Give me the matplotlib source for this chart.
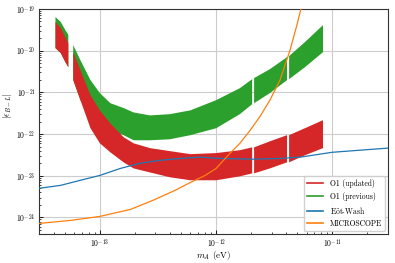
import numpy as np
import matplotlib
matplotlib.use("Agg")
import matplotlib.pyplot as plt
from matplotlib.ticker import NullFormatter, LogLocator

plt.rcParams["font.family"] = ["cmr10", "DejaVu Serif"]
plt.rcParams["mathtext.fontset"] = "cm"
plt.rcParams["axes.formatter.use_mathtext"] = True

nan = np.nan

# O1 bands (dark photon mass in eV), NaN marks breaks in the data
m_band = [4.15e-14, 4.6e-14, 5.05e-14, 5.35e-14, nan,
          5.9e-14, 6.8e-14, 8.3e-14, 1.0e-13, 1.23e-13, 1.6e-13, 1.95e-13,
          2.7e-13, 4.0e-13, 6.0e-13, 1.0e-12, 1.6e-12, 2.04e-12, nan,
          2.12e-12, 2.9e-12, 4.07e-12, nan,
          4.24e-12, 5.8e-12, 8.3e-12]

prev_hi = [6.4e-20, 4.9e-20, 3.1e-20, 2.4e-20, nan,
           1.36e-20, 5.9e-21, 1.96e-21, 9.6e-22, 5.5e-22, 4.2e-22, 3.3e-22,
           2.8e-22, 3.0e-22, 3.7e-22, 6.5e-22, 1.26e-21, 2.07e-21, nan,
           2.2e-21, 3.6e-21, 7.0e-21, nan,
           7.4e-21, 1.6e-20, 4.1e-20]
prev_lo = [1.15e-20, 8.8e-21, 5.3e-21, 4.0e-21, nan,
           1.96e-21, 6.5e-22, 2.4e-22, 1.63e-22, 1.23e-22, 9.4e-23, 7.1e-23,
           7.1e-23, 7.5e-23, 9.4e-23, 1.38e-22, 3.0e-22, 5.2e-22, nan,
           5.5e-22, 9.6e-22, 1.96e-21, nan,
           2.07e-21, 4.0e-21, 9.2e-21]

upd_hi = [4.9e-20, 3.5e-20, 2.1e-20, 1.5e-20, nan,
          9.2e-21, 3.4e-21, 8.6e-22, 3.7e-22, 1.8e-22, 8.4e-23, 6.0e-23,
          4.6e-23, 3.9e-23, 3.3e-23, 3.5e-23, 4.1e-23, 4.8e-23, nan,
          4.8e-23, 6.7e-23, 9.4e-23, nan,
          9.4e-23, 1.38e-22, 2.15e-22]
upd_lo = [1.15e-20, 8.8e-21, 5.3e-21, 4.0e-21, nan,
          1.96e-21, 6.5e-22, 1.38e-22, 6.0e-23, 3.65e-23, 2.1e-23, 1.5e-23,
          1.2e-23, 9.2e-24, 7.8e-24, 7.8e-24, 9.7e-24, 1.14e-23, nan,
          1.14e-23, 1.5e-23, 2.1e-23, nan,
          2.1e-23, 3.1e-23, 4.6e-23]

# Eot-Wash
m_ew = [3.0e-14, 4.6e-14, 6.8e-14, 1.0e-13, 1.5e-13, 2.23e-13, 3.3e-13,
        4.9e-13, 7.3e-13, 1.08e-12, 2.08e-12, 3.5e-12, 5.3e-12, 9.9e-12,
        1.72e-11, 3.0e-11]
eps_ew = [5.0e-24, 5.9e-24, 7.8e-24, 1.02e-23, 1.5e-23, 2.0e-23, 2.35e-23,
          2.6e-23, 2.8e-23, 2.6e-23, 2.5e-23, 2.6e-23, 2.8e-23, 3.65e-23,
          4.1e-23, 4.6e-23]

# MICROSCOPE
m_ms = [3.0e-14, 5.6e-14, 1.0e-13, 1.83e-13, 2.88e-13, 4.45e-13, 6.0e-13,
        8.05e-13, 1.0e-12, 1.32e-12, 1.6e-12, 1.96e-12, 2.39e-12, 2.9e-12,
        3.54e-12, 4.32e-12, 4.95e-12, 5.47e-12]
eps_ms = [7.2e-25, 8.5e-25, 1.06e-24, 1.56e-24, 2.6e-24, 4.5e-24, 6.9e-24,
          1.02e-23, 1.5e-23, 3.5e-23, 6.0e-23, 1.23e-22, 2.68e-22, 6.5e-22,
          1.96e-21, 1.03e-20, 4.1e-20, 1.26e-19]

xticks = [1e-13, 1e-12, 1e-11]
yticks = [1e-24, 1e-23, 1e-22, 1e-21, 1e-20, 1e-19]

fig = plt.figure(figsize=(3.95, 2.63), dpi=100)
ax = fig.add_axes([0.099, 0.110, 0.883, 0.856])

ax.fill_between(m_band, prev_lo, prev_hi, color="#2ca02c", lw=0, zorder=2)
ax.fill_between(m_band, upd_lo, upd_hi, color="#d62728", lw=0, zorder=3)
ax.plot(m_ew, eps_ew, color="#1f77b4", lw=0.9, zorder=4)
ax.plot(m_ms, eps_ms, color="#ff7f0e", lw=0.9, zorder=4)

ax.plot([], [], color="#d62728", lw=1.2, label="O1 (updated)")
ax.plot([], [], color="#2ca02c", lw=1.2, label="O1 (previous)")
ax.plot([], [], color="#1f77b4", lw=1.2, label=r"E$\mathrm{\ddot{o}}$t-Wash")
ax.plot([], [], color="#ff7f0e", lw=1.2, label="MICROSCOPE")

ax.set_xscale("log")
ax.set_yscale("log")
ax.set_xlim(3e-14, 3e-11)
ax.set_ylim(4e-25, 1e-19)
ax.set_xticks(xticks)
ax.set_yticks(yticks)
ax.xaxis.set_minor_locator(LogLocator(base=10, subs=np.arange(2, 10)))
ax.yaxis.set_minor_locator(LogLocator(base=10, subs=np.arange(2, 10)))
ax.xaxis.set_minor_formatter(NullFormatter())
ax.yaxis.set_minor_formatter(NullFormatter())
ax.grid(True, which="major", color="#cccccc", lw=0.8, zorder=0)
ax.set_axisbelow(True)

ax.tick_params(which="both", direction="in", labelsize=5.5)
ax.tick_params(which="major", length=3, width=0.6, pad=2.5)
ax.tick_params(which="minor", length=1.6, width=0.5)
for s in ax.spines.values():
    s.set_linewidth(0.8)
    s.set_color("#333333")

ax.set_xlabel(r"$m_A$ (eV)", fontsize=6.5)
ax.set_ylabel(r"$|\epsilon_{B-L}|$", fontsize=6.5)
ax.xaxis.set_label_coords(0.5, -0.066)
ax.yaxis.set_label_coords(-0.072, 0.57)

ax.legend(loc="lower right", fontsize=5.5, handlelength=2.2,
          borderaxespad=0.4, framealpha=0.9)

fig.savefig("out.png", dpi=100)
